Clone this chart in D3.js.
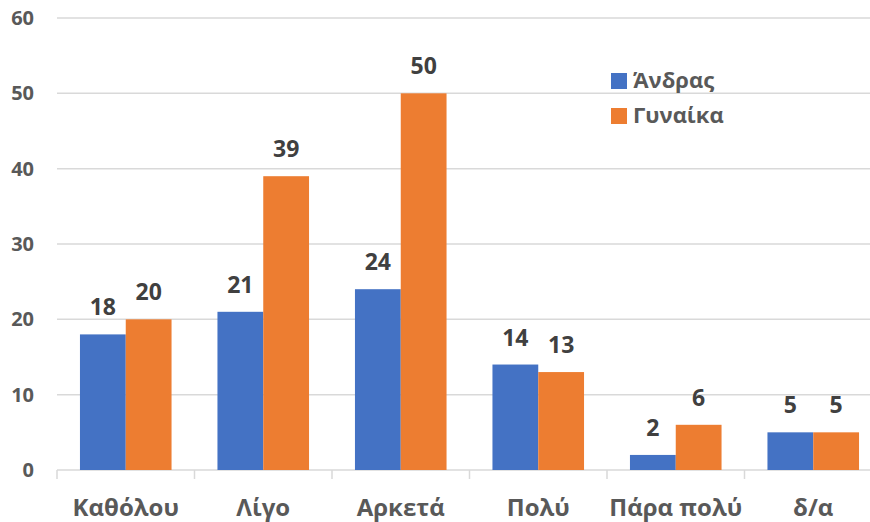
<!DOCTYPE html>
<html>
<head>
<meta charset="utf-8">
<script src="https://cdn.jsdelivr.net/npm/d3@7"></script>
<style>
  body { margin: 0; background: #fff; }
  svg { display: block; overflow: hidden; }
  text { font-family: "Open Sans", sans-serif; font-weight: bold; }
</style>
</head>
<body>
<div id="chart"></div>
<script>
// chart data
var categories = ["Καθόλου", "Λίγο", "Αρκετά", "Πολύ", "Πάρα πολύ", "δ/α"];
var seriesNames = ["Άνδρας", "Γυναίκα"];
var men = [18, 21, 24, 14, 2, 5];
var women = [20, 39, 50, 13, 6, 5];
var yTicks = [0, 10, 20, 30, 40, 50, 60];

var colors = ["#4472C4", "#ED7D31"];

var width = 870, height = 522;
var plot = {left: 57, right: 882, top: 18, bottom: 470};

var svg = d3.select("#chart").append("svg")
    .attr("width", width)
    .attr("height", height);

var x0 = d3.scaleBand()
    .domain(categories)
    .range([plot.left, plot.right]);

var x1 = d3.scaleBand()
    .domain(seriesNames)
    .range([x0.bandwidth() * 0.167, x0.bandwidth() * 0.833]);

var y = d3.scaleLinear()
    .domain([0, 60])
    .range([plot.bottom, plot.top]);

// gridlines
svg.selectAll(".grid")
    .data(yTicks)
    .enter()
    .append("line")
    .attr("class", "grid")
    .attr("x1", plot.left)
    .attr("x2", plot.right)
    .attr("y1", function(d) { return y(d); })
    .attr("y2", function(d) { return y(d); })
    .attr("stroke", "#d9d9d9")
    .attr("stroke-width", 1.5);

// y labels
svg.selectAll(".ylab")
    .data(yTicks)
    .enter()
    .append("text")
    .attr("class", "ylab")
    .attr("x", 34)
    .attr("y", function(d) { return y(d) + 7; })
    .attr("text-anchor", "end")
    .attr("font-size", 20)
    .attr("fill", "#595959")
    .text(function(d) { return d; });

// category separators under the axis
var bounds = categories.map(function(c) { return x0(c); }).concat([plot.right]);
svg.selectAll(".sep")
    .data(bounds)
    .enter()
    .append("line")
    .attr("class", "sep")
    .attr("x1", function(d) { return d; })
    .attr("x2", function(d) { return d; })
    .attr("y1", plot.bottom)
    .attr("y2", plot.bottom + 9)
    .attr("stroke", "#d9d9d9")
    .attr("stroke-width", 1.5);

var rows = categories.map(function(c, i) {
    return {cat: c, values: [
        {name: seriesNames[0], value: men[i], color: colors[0]},
        {name: seriesNames[1], value: women[i], color: colors[1]}
    ]};
});

var groups = svg.selectAll(".group")
    .data(rows)
    .enter()
    .append("g")
    .attr("class", "group")
    .attr("transform", function(d) { return "translate(" + x0(d.cat) + ",0)"; });

groups.selectAll("rect")
    .data(function(d) { return d.values; })
    .enter()
    .append("rect")
    .attr("x", function(d) { return x1(d.name); })
    .attr("width", x1.bandwidth())
    .attr("y", function(d) { return y(d.value); })
    .attr("height", function(d) { return y(0) - y(d.value); })
    .attr("fill", function(d) { return d.color; });

groups.selectAll(".val")
    .data(function(d) { return d.values; })
    .enter()
    .append("text")
    .attr("class", "val")
    .attr("x", function(d) { return x1(d.name) + x1.bandwidth() / 2; })
    .attr("y", function(d) { return y(d.value) - 19; })
    .attr("text-anchor", "middle")
    .attr("font-size", 23)
    .attr("fill", "#404040")
    .text(function(d) { return d.value; });

// category labels
svg.selectAll(".cat")
    .data(categories)
    .enter()
    .append("text")
    .attr("class", "cat")
    .attr("x", function(d) { return x0(d) + x0.bandwidth() / 2; })
    .attr("y", 516)
    .attr("text-anchor", "middle")
    .attr("font-size", 24)
    .attr("fill", "#595959")
    .text(function(d) { return d; });

// legend
var legend = svg.selectAll(".legend")
    .data(seriesNames)
    .enter()
    .append("g")
    .attr("class", "legend")
    .attr("transform", function(d, i) { return "translate(611," + (73 + i * 35) + ")"; });

legend.append("rect")
    .attr("width", 16)
    .attr("height", 16)
    .attr("fill", function(d, i) { return colors[i]; });

legend.append("text")
    .attr("x", 22)
    .attr("y", 15)
    .attr("font-size", 22)
    .attr("fill", "#595959")
    .text(function(d) { return d; });
</script>
</body>
</html>
